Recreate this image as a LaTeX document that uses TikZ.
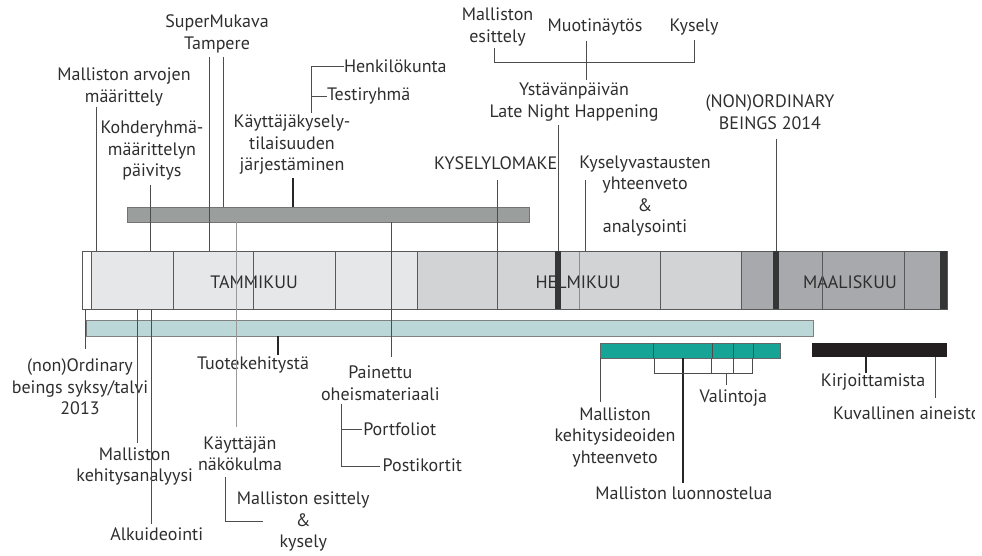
\documentclass[tikz,border=0pt]{standalone}
\usepackage{fontspec}
\setmainfont{PT Sans}
\begin{document}
\begin{tikzpicture}[x=1pt,y=-1pt,
  lbl/.style={inner sep=0pt, outer sep=0pt, align=center, text=txt, font=\fontsize{18}{21.5}\selectfont},
  ln/.style={draw=lnc, line width=0.9pt},
  lnthick/.style={draw=black!85, line width=2pt},
  lnlight/.style={draw=black!40, line width=1pt},
  barbox/.style={inner sep=0pt, outer sep=0pt, minimum width=#1, anchor=north west},
  cellline/.style={draw=black!65, line width=0.9pt},
]
\definecolor{txt}{HTML}{2E2E2E}
\definecolor{lnc}{HTML}{4D4D4D}
\definecolor{jan}{HTML}{E6E7E8}
\definecolor{feb}{HTML}{D1D3D4}
\definecolor{mar}{HTML}{A7A9AC}
\definecolor{darkbar}{HTML}{353535}
\definecolor{gbarc}{HTML}{9A9E9D}
\definecolor{tbarc}{HTML}{BCD7D8}
\definecolor{dbarc}{HTML}{16A497}
\definecolor{kbarc}{HTML}{231F20}
\useasboundingbox (0,0) rectangle (982,556);

% ---------- bars as named nodes ----------
\node[barbox=865pt, minimum height=58pt] (main) at (82,251) {};
\node[barbox=402pt, minimum height=15pt] (gbar) at (127,207) {};
\node[barbox=728pt, minimum height=16pt] (tbar) at (85,320) {};
\node[barbox=180pt, minimum height=15pt] (dbar) at (600,343) {};
\node[barbox=135pt, minimum height=14pt] (kbar) at (812,343) {};

% main bar cells
\fill[white] (82,251) rectangle (91,309);
\fill[jan] (91,251) rectangle (417,309);
\fill[feb] (417,251) rectangle (741,309);
\fill[mar] (741,251) rectangle (947,309);

% month labels (below lines)
\node[lbl] (jan) at (254,282) {TAMMIKUU};
\node[lbl] (feb) at (578,282) {HELMIKUU};
\node[lbl] (mar) at (850,282) {MAALISKUU};

\foreach \x in {91,173,253,335,417,497,660,741,822,904}
  \draw[cellline] (\x,251) -- (\x,309);
\draw[draw=black!45, line width=0.9pt] (579,251) -- (579,309);
\draw[cellline] (82,251) rectangle (947,309);
\fill[darkbar] (555,251) rectangle (561,309);
\fill[darkbar] (773,251) rectangle (779,309);
\fill[darkbar] (940,251) rectangle (947,309);

% gray bar
\filldraw[fill=gbarc, draw=black!55, line width=0.8pt] (127,207) rectangle (529,222);
% light teal bar
\filldraw[fill=tbarc, draw=black!50, line width=0.8pt] (85,320) rectangle (813,336);
\draw[draw=black!55, line width=2pt] (86,320) -- (86,336);
% dark teal bar
\filldraw[fill=dbarc, draw=black!60, line width=0.8pt] (600,343) rectangle (780,358);
\foreach \x in {653,712,733,753}
  \draw[draw=black!70, line width=0.9pt] (\x,343) -- (\x,358);
% black bar
\fill[kbarc] (812,343) rectangle (947,357);

% ---------- labels above ----------
\node[lbl] (arvot) at (124,87) {Malliston arvojen\\määrittely};
\node[lbl] (kohde) at (152,151) {Kohderyhmä-\\määrittelyn\\päivitys};
\node[lbl] (super) at (217,34) {SuperMukava\\Tampere};
\node[lbl] (kayttkys) at (292,145) {Käyttäjäkysely-\\tilaisuuden\\järjestäminen};
\node[lbl, anchor=west] (henk) at (344,66) {Henkilökunta};
\node[lbl, anchor=west] (testi) at (327,96) {Testiryhmä};
\node[lbl] (mesit) at (497.5,27) {Malliston\\esittely};
\node[lbl] (muoti) at (595,27.3) {Muotinäytös};
\node[lbl] (kysely) at (694,26.7) {Kysely};
\node[lbl] (ystava) at (574,102) {Ystävänpäivän\\Late Night Happening};
\node[lbl] (lomake) at (495.7,163) {KYSELYLOMAKE};
\node[lbl] (vast) at (645,196) {Kyselyvastausten\\yhteenveto\\\&\\analysointi};
\node[lbl] (nonord) at (770,112.3) {(NON)ORDINARY\\BEINGS 2014};

% ---------- labels below ----------
\node[lbl] (nonord13) at (80,386.7) {(non)Ordinary\\beings syksy/talvi\\2013};
\node[lbl] (kehan) at (134.7,466.7) {Malliston\\kehitysanalyysi};
\node[lbl] (alku) at (156.7,534) {Alkuideointi};
\node[lbl] (tuote) at (253,365) {Tuotekehitystä};
\node[lbl] (nako) at (240,453.7) {Käyttäjän\\näkökulma};
\node[lbl] (esky) at (303.3,521.7) {Malliston esittely\\\&\\kysely};
\node[lbl] (paine) at (380.3,383.3) {Painettu\\oheismateriaali};
\node[lbl, anchor=west] (portf) at (363.3,429.3) {Portfoliot};
\node[lbl, anchor=west] (posti) at (382.7,465) {Postikortit};
\node[lbl] (kehid) at (615,437.2) {Malliston\\kehitysideoiden\\yhteenveto};
\node[lbl] (luonn) at (683.8,493.3) {Malliston luonnostelua};
\node[lbl] (valin) at (733.3,397.7) {Valintoja};
\node[lbl] (kirj) at (873,381.7) {Kirjoittamista};
\begin{scope}
\clip (800,395) rectangle (974,430);
\node[lbl, anchor=west] (kuva) at (833,413.3) {Kuvallinen aineisto};
\end{scope}

% ---------- connectors above ----------
\coordinate (c1) at (96,107);   \draw[ln] (c1) -- (c1 |- main.north);
\coordinate (c2) at (150,185);  \draw[ln] (c2) -- (c2 |- main.north);
\coordinate (c3) at (209,57);   \draw[ln] (c3) -- (c3 |- main.north);
\coordinate (c4) at (223,57);   \draw[ln] (c4) -- (c4 |- gbar.north);
\coordinate (c5) at (293.3,178);\draw[lnthick] (c5) -- (c5 |- gbar.north);
\coordinate (c6) at (311,113);  \coordinate (c6t) at (311,66); \coordinate (c6m) at (311,96);
\draw[ln] (c6) -- (c6t) -- (henk.west);
\draw[ln] (c6m) -- (testi.west);
\coordinate (c7) at (497.7,180);\draw[ln] (c7) -- (c7 |- main.north);
\coordinate (c8) at (558.3,125);\draw[ln] (c8) -- (c8 |- main.north);
\coordinate (c9) at (585.7,180);\draw[ln] (c9) -- (c9 |- main.north);
\coordinate (c10) at (776,139); \draw[ln] (c10) -- (c10 |- main.north);
\coordinate (b1a) at (494,48); \coordinate (b1b) at (494,62);
\coordinate (b1c) at (694,62); \coordinate (b1d) at (694,40);
\draw[ln] (b1a) -- (b1b) -- (b1c) -- (b1d);
\coordinate (b1m) at (586,40.7); \coordinate (b1n) at (586,80);
\draw[ln] (b1m) -- (b1n);

% ---------- connectors below ----------
\coordinate (d1) at (236,426.7); \draw[lnlight] (d1 |- gbar.south) -- (d1);
\coordinate (d2) at (391,356.7); \draw[ln] (d2 |- gbar.south) -- (d2);
\coordinate (d3) at (85,349.3);  \draw[ln] (d3 |- main.south) -- (d3);
\coordinate (d4) at (137.7,443.3); \draw[ln] (d4 |- main.south) -- (d4);
\coordinate (d5) at (151.7,524.3); \draw[ln] (d5 |- main.south) -- (d5);
\coordinate (d6) at (277.7,355); \draw[lnthick] (d6 |- tbar.south) -- (d6);
\coordinate (d7a) at (225,476.7); \coordinate (d7b) at (225,521); \coordinate (d7c) at (263.3,521);
\draw[ln] (d7a) -- (d7b) -- (d7c);
\coordinate (d8a) at (341.7,404); \coordinate (d8b) at (341.7,466); \coordinate (d8c) at (380,466);
\coordinate (d8m) at (341.7,429.3); \coordinate (d8n) at (361.7,429.3);
\draw[ln] (d8a) -- (d8b) -- (d8c);
\draw[ln] (d8m) -- (d8n);
\coordinate (d9) at (600,401.7); \draw[ln] (d9 |- dbar.south) -- (d9);
\coordinate (d10) at (683,483.3); \draw[lnthick] (d10 |- dbar.south) -- (d10);
\foreach \x in {654,711.7,733.3,752.7}
  \draw[ln] (\x,358) -- (\x,373.3);
\coordinate (v1) at (654,373.3); \coordinate (v2) at (752.7,373.3);
\draw[ln] (v1) -- (v2);
\coordinate (v3) at (726.7,373.3); \coordinate (v4) at (726.7,385);
\draw[ln] (v3) -- (v4);
\coordinate (d11) at (865.7,372.7); \draw[lnthick] (d11 |- kbar.south) -- (d11);
\coordinate (d12) at (935,398.3); \draw[ln] (d12 |- kbar.south) -- (d12);
\end{tikzpicture}
\end{document}
